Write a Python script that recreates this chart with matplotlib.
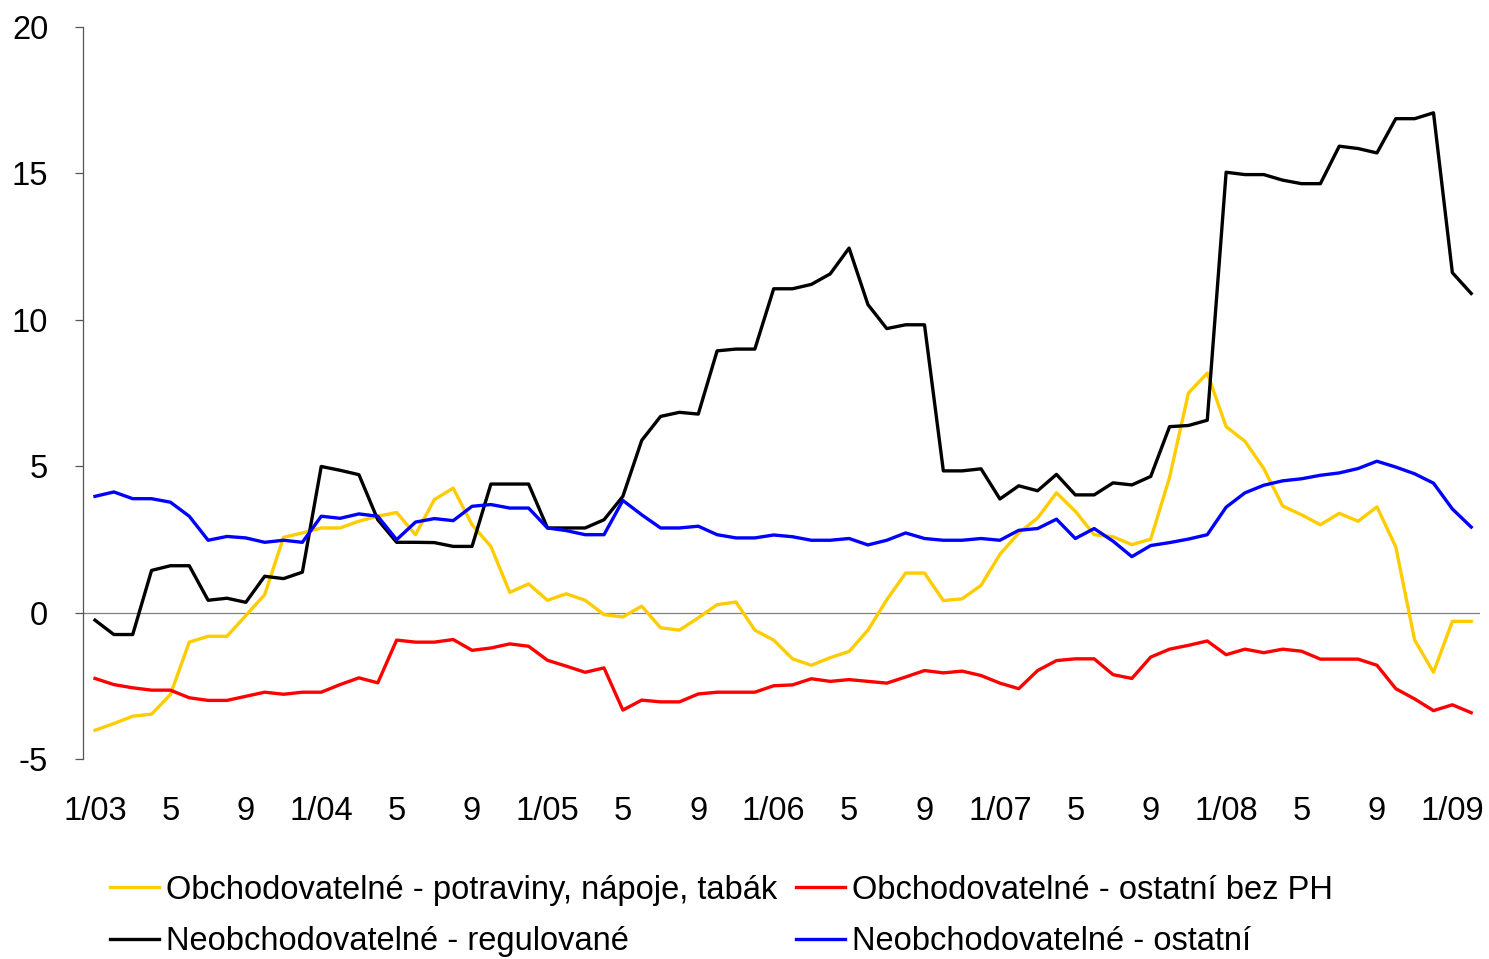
import matplotlib.pyplot as plt
import numpy as np

plt.rcParams['font.family'] = ['Liberation Sans', 'DejaVu Sans']
plt.rcParams['axes.unicode_minus'] = False

# --- data (monthly, 1/03 .. 2/09) ---
potraviny = [-4.02, -3.79, -3.54, -3.47, -2.8, -1.01, -0.81, -0.81, -0.1, 0.61,
             2.57, 2.72, 2.89, 2.89, 3.12, 3.29, 3.42, 2.66, 3.86,
             4.25, 3.0, 2.26, 0.69, 0.98, 0.42, 0.64, 0.42, -0.07, -0.15,
             0.22, -0.52, -0.6, -0.18, 0.27, 0.36, -0.6, -0.94,
             -1.58, -1.80, -1.54, -1.33, -0.6, 0.44, 1.35, 1.35, 0.41,
             0.47, 0.93, 1.99, 2.72, 3.23, 4.09, 3.46, 2.66, 2.59,
             2.32, 2.51, 4.62, 7.5, 8.18, 6.35, 5.85, 4.92, 3.64, 3.34,
             3.0, 3.39, 3.12, 3.61, 2.24, -0.94, -2.04, -0.3, -0.3]
ostatni_bez_ph = [-2.25, -2.46, -2.57, -2.65, -2.65, -2.91, -3.0, -3.0, -2.86, -2.72,
                  -2.79, -2.72, -2.72, -2.46, -2.23, -2.4, -0.94, -1.01, -1.01,
                  -0.92, -1.29, -1.21, -1.07, -1.15, -1.63, -1.83, -2.04, -1.89,
                  -3.33, -2.99, -3.05, -3.05, -2.78, -2.72, -2.72, -2.72, -2.5,
                  -2.47, -2.26, -2.35, -2.29, -2.35, -2.41, -2.2, -1.98, -2.06,
                  -2.0, -2.15, -2.41, -2.6, -1.98, -1.64, -1.58, -1.58, -2.12,
                  -2.25, -1.52, -1.25, -1.12, -0.97, -1.44, -1.25, -1.37, -1.25,
                  -1.32, -1.59, -1.59, -1.59, -1.8, -2.6, -2.95, -3.35, -3.15, -3.42]
regulovane = [-0.26, -0.75, -0.75, 1.44, 1.6, 1.6, 0.42, 0.49, 0.35, 1.24,
              1.16, 1.38, 4.99, 4.86, 4.71, 3.17, 2.4, 2.4, 2.39,
              2.26, 2.26, 4.39, 4.39, 4.39, 2.89, 2.89, 2.89, 3.17, 3.97,
              5.88, 6.7, 6.84, 6.78, 8.94, 9.0, 9.0, 11.06,
              11.06, 11.21, 11.57, 12.45, 10.52, 9.7, 9.83, 9.83, 4.84,
              4.84, 4.91, 3.88, 4.33, 4.16, 4.72, 4.02, 4.02, 4.43,
              4.36, 4.65, 6.35, 6.39, 6.57, 15.04, 14.96, 14.96, 14.77, 14.65,
              14.65, 15.93, 15.85, 15.7, 16.87, 16.87, 17.07, 11.61, 10.9]
neobch_ostatni = [3.97, 4.12, 3.89, 3.89, 3.77, 3.29, 2.47, 2.6, 2.55, 2.4,
                  2.47, 2.4, 3.29, 3.22, 3.37, 3.29, 2.49, 3.09, 3.21,
                  3.14, 3.63, 3.69, 3.57, 3.57, 2.89, 2.8, 2.66, 2.66, 3.83,
                  3.34, 2.89, 2.89, 2.95, 2.66, 2.55, 2.55, 2.65,
                  2.59, 2.47, 2.47, 2.53, 2.31, 2.47, 2.72, 2.53, 2.47,
                  2.47, 2.53, 2.47, 2.81, 2.87, 3.19, 2.53, 2.87, 2.44,
                  1.91, 2.29, 2.39, 2.51, 2.66, 3.6, 4.09, 4.35, 4.5, 4.57,
                  4.69, 4.77, 4.92, 5.17, 4.97, 4.74, 4.42, 3.54, 2.92]

tick_labels = ['1/03', '5', '9', '1/04', '5', '9', '1/05', '5', '9', '1/06',
               '5', '9', '1/07', '5', '9', '1/08', '5', '9', '1/09']

x = np.arange(len(potraviny))

fig = plt.figure(figsize=(14.89, 9.59), dpi=100)
ax = fig.add_axes([0.0557, 0.2086, 0.9383, 0.7632])

l1, = ax.plot(x, potraviny, color='#FFCC00', lw=2.4,
              label='Obchodovatelné - potraviny, nápoje, tabák')
l2, = ax.plot(x, ostatni_bez_ph, color='#FF0000', lw=2.4,
              label='Obchodovatelné - ostatní bez PH')
l3, = ax.plot(x, regulovane, color='#000000', lw=2.4,
              label='Neobchodovatelné - regulované')
l4, = ax.plot(x, neobch_ostatni, color='#0000FF', lw=2.4,
              label='Neobchodovatelné - ostatní')
ax.axhline(0, color='#808080', lw=0.9, zorder=0)

ax.set_xlim(-0.64, 73.47)
ax.set_ylim(-5, 20)
ax.set_yticks(range(-5, 21, 5))
ax.set_xticks(np.arange(0, 73, 4))
ax.set_xticklabels(tick_labels)

for s in ['top', 'right', 'bottom']:
    ax.spines[s].set_visible(False)
ax.spines['left'].set_color('#555555')
ax.spines['left'].set_linewidth(0.9)
ax.tick_params(axis='y', direction='out', length=6, width=0.9, color='#555555',
               labelsize=23.5, pad=19)
ax.tick_params(axis='x', length=0, labelsize=23.5, pad=27)

fig.legend(handles=[l1, l3, l2, l4], ncol=2, frameon=False, fontsize=23.5,
           loc='center', bbox_to_anchor=(0.4845, 0.045),
           handlelength=1.5, handletextpad=0.2, columnspacing=0.6,
           labelspacing=0.62)

fig.savefig('out.png', dpi=100)
